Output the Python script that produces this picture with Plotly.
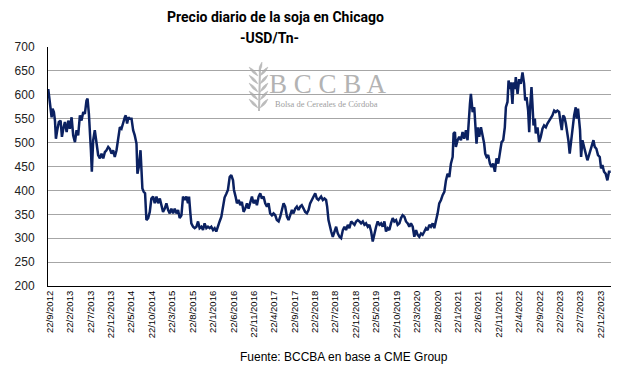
import plotly.graph_objects as go
import pandas as pd

# ---------------- data ----------------
inicio = "2012-09-10"  # first quotation in the series

dias = [0,12,25,32,42,50,57,67,79,92,102,112,124,137,149,161,174,186,199,211,223,236,248,261,273,285,293,303,310,318,325,335,347,360,372,385,397,410,422,434,447,459,472,484,496,509,521,534,546,558,571,578,588,598,608,
        621,633,645,658,665,675,688,695,702,712,722,732,745,757,769,782,794,807,819,832,844,856,869,881,894,906,918,931,943,956,968,980,993,1005,1018,1030,1042,1050,1060,1067,1080,1092,1105,1117,1129,1142,1154,1166,1179,1191,1204,1216,1229,1241,1253,1266,1278,1291,1303,1315,1328,1340,1353,
        1365,1378,1385,1397,1407,1420,1432,1444,1457,1469,1482,1494,1507,1519,1531,1544,1556,1569,1581,1593,1606,1618,1631,1643,1655,1668,1680,1693,1705,1718,1730,1742,1755,1767,1780,1792,1804,1817,1829,1842,1854,1866,1879,1891,1904,1916,1929,1941,1953,1966,1978,1991,2003,2015,
        2023,2035,2048,2060,2072,2080,2090,2097,2110,2122,2135,2147,2159,2172,2184,2197,2209,2221,2234,2246,2259,2271,2284,2296,2308,2321,2333,2346,2358,2370,2383,2395,2408,2420,2432,2445,2457,2470,2482,2494,2507,2519,2532,2544,2556,2569,2581,2594,2606,2619,2631,2643,2656,2668,2681,2693,
        2705,2718,2730,2743,2755,2767,2780,2792,2805,2817,2829,2842,2854,2867,2879,2892,2904,2916,2929,2941,2954,2966,2978,2991,3003,3016,3023,3033,3040,3053,3065,3078,3090,3102,3115,3127,3135,3145,3152,3165,3177,3184,3194,3204,3214,3227,3239,3251,3259,3269,3281,3294,3306,3318,3331,3343,3356,
        3368,3381,3393,3405,3413,3425,3433,3443,3450,3462,3470,3480,3487,3500,3512,3524,3537,3549,3557,3567,3579,3587,3594,3604,3611,3619,3629,3636,3649,3661,3673,3686,3698,3711,3723,3735,3748,3760,3773,3785,3797,3810,3822,3830,3840,3850,3860,3872,3879,3889,3897,3909,3922,3934,3941,3951,3959,3966,3974,3984,3996,4008,4021,4033,4046,4058,4066,4076,4088,4100,4113,4123,4133,4145,4157,4170,4182,4195]

precios = [612,577,553,571,564,546,508,526,543,546,512,529,543,522,546,529,553,515,501,526,515,557,546,564,560,588,592,560,505,484,439,505,526,498,474,467,477,467,480,484,491,487,477,484,470,484,512,532,529,543,553,557,540,553,550,
           550,526,515,498,435,449,484,449,404,397,394,338,342,355,383,387,373,387,373,383,366,355,362,373,359,352,362,352,362,352,359,342,348,387,380,387,373,387,352,331,324,321,324,335,321,324,317,331,321,324,321,324,317,321,314,328,335,345,370,385,393,401,428,
           432,421,401,387,373,380,369,376,355,362,373,362,373,387,373,380,369,387,394,383,387,373,366,373,352,348,352,348,338,335,345,359,373,366,345,338,348,359,352,362,366,359,366,369,362,355,352,359,373,380,387,394,383,380,
           383,387,380,383,380,366,338,328,314,303,317,324,310,303,300,317,324,317,328,321,335,331,328,335,338,335,331,335,328,331,324,328,314,293,310,324,335,328,331,324,335,314,321,317,331,342,335,338,328,331,342,348,345,335,331,324,
           331,324,303,317,307,303,310,307,314,321,317,328,324,331,321,335,352,373,380,390,397,421,435,428,456,470,519,522,491,505,512,505,522,508,526,505,550,581,602,564,574,543,498,532,512,532,515,498,477,470,474,456,449,456,439,467,456,
           474,501,505,532,574,585,630,612,626,581,626,612,637,602,633,623,647,623,588,595,567,522,574,616,581,536,550,519,532,501,512,529,536,532,540,546,553,557,567,564,567,564,540,526,557,553,540,522,505,477,498,532,557,574,550,571,540,526,470,505,491,477,463,474,487,498,505,491,487,474,470,446,453,439,435,421,439,439]

etiquetas = ["22/9/2012", "22/2/2013", "22/7/2013", "22/12/2013", "22/5/2014", "22/10/2014",
             "22/3/2015", "22/8/2015", "22/1/2016", "22/6/2016", "22/11/2016", "22/4/2017",
             "22/9/2017", "22/2/2018", "22/7/2018", "22/12/2018", "22/5/2019", "22/10/2019",
             "22/3/2020", "22/8/2020", "22/1/2021", "22/6/2021", "22/11/2021", "22/4/2022",
             "22/9/2022", "22/2/2023", "22/7/2023", "22/12/2023"]

titulo = "Precio diario de la soja en Chicago"
subtitulo = "-USD/Tn-"
fuente = "Fuente: BCCBA en base a CME Group"

# ---------------- figure ----------------
fechas = pd.Timestamp(inicio) + pd.to_timedelta(dias, unit="D")
tick_fechas = pd.to_datetime(etiquetas, format="%d/%m/%Y")

# the page body has an 8px margin: the figure is sized so it exactly fills the window
OFF = 8
W, H = 627 - OFF, 373 - OFF
PL, PR, PT, PB = 48, 611, 47, 286          # plot area in window pixels
L, T = PL - OFF, PT - OFF
R, B = 627 - PR, 373 - PB
pw, ph = PR - PL, PB - PT

def X(p):
    return (p - PL) / pw

def Y(p):
    return (PB - p) / ph

fig = go.Figure()
fig.add_trace(go.Scatter(x=fechas, y=precios, mode="lines",
                         line=dict(color="#0b2161", width=2.5),
                         hoverinfo="skip", showlegend=False))

# watermark logo (BCCBA)
grey = "#bcbcbc"
shapes = []
shapes.append(dict(type="line", xref="paper", yref="paper",
                   x0=X(259), y0=Y(111), x1=X(260), y1=Y(68),
                   line=dict(color=grey, width=2), layer="below"))

def leaf(bx, by, tx, ty, w):
    mx, my = (bx + tx) / 2, (by + ty) / 2
    dx, dy = tx - bx, ty - by
    n = (dx * dx + dy * dy) ** 0.5
    nx, ny = -dy / n * w, dx / n * w
    path = (f"M {X(bx)},{Y(by)} Q {X(mx+nx)},{Y(my+ny)} {X(tx)},{Y(ty)} "
            f"Q {X(mx-nx)},{Y(my-ny)} {X(bx)},{Y(by)} Z")
    return dict(type="path", xref="paper", yref="paper", path=path,
                fillcolor=grey, line=dict(color=grey, width=0.5), layer="below")

for yb in [76, 84, 92, 100, 108]:
    shapes.append(leaf(258, yb, 249, yb - 9, 2.6))
    shapes.append(leaf(260, yb, 268, yb - 9, 2.6))
shapes.append(leaf(259, 72, 262, 62, 2.4))

def note(text, xp, yp, family, size, color, bold=False):
    return dict(text=("<b>" + text + "</b>") if bold else text,
                x=X(xp), y=Y(yp), xref="paper", yref="paper",
                xanchor="center", yanchor="middle", showarrow=False,
                borderpad=0,
                font=dict(family=family, size=size, color=color))

annotations = [
    note(titulo, 275, 16.5, "Roboto, Arial", 14, "#000", bold=True),
    note(subtitulo, 269, 38, "Roboto, Arial", 14, "#000", bold=True),
    note(fuente, 344, 357, "Liberation Sans, Arial", 12, "#000"),
    note("B C C B A", 328, 84, "Liberation Serif, Times New Roman", 27, "#b3b3b3"),
    note("Bolsa de Cereales de Córdoba", 326, 104, "Liberation Serif, Times New Roman", 8.5, "#a0a0a0"),
]

fig.update_layout(
    width=W, height=H,
    margin=dict(l=L, r=R, t=T, b=B, pad=0, autoexpand=False),
    paper_bgcolor="white", plot_bgcolor="white",
    shapes=shapes, annotations=annotations,
    font=dict(family="Liberation Sans, Arial", color="#000"),
    xaxis=dict(type="date", automargin=False,
               range=[fechas[0] - pd.Timedelta(days=2), fechas[-1] + pd.Timedelta(days=2)],
               tickmode="array", tickvals=tick_fechas, ticktext=etiquetas,
               tickangle=-90, tickfont=dict(size=9.5, color="#000"),
               showgrid=False, zeroline=False, showline=True,
               linecolor="#000", linewidth=1, ticks=""),
    yaxis=dict(range=[200, 700], dtick=50, tick0=200, automargin=False,
               tickfont=dict(size=12, color="#222"),
               showgrid=True, gridcolor="#a6a6a6", gridwidth=1,
               zeroline=False, showline=True, linecolor="#000", linewidth=1,
               ticks="", ticklabelstandoff=10),
)

fig.write_html("out.html")
